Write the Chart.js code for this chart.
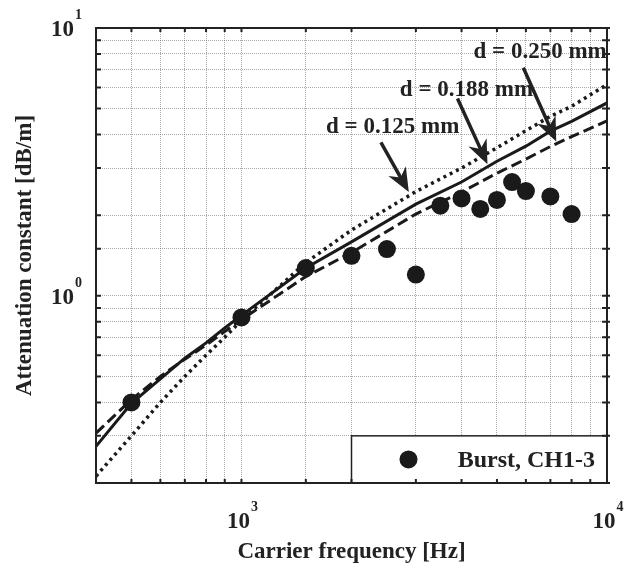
<!DOCTYPE html>
<html>
<head>
<meta charset="utf-8">
<script src="https://cdn.jsdelivr.net/npm/chart.js@4.4.1/dist/chart.umd.min.js"></script>
<style>
  html, body { margin: 0; padding: 0; background: #fff; }
  #wrap { width: 633px; height: 568px; }
</style>
</head>
<body>
<div id="wrap"><canvas id="atten"></canvas></div>
<script>
// measured attenuation, burst signal on CH1-3
var burstFreq = [500, 1000, 1500, 2000, 2500, 3000, 3500, 4000, 4500, 5000, 5500, 6000, 7000, 8000];
var burstAtten = [0.40, 0.83, 1.27, 1.41, 1.495, 1.20, 2.17, 2.31, 2.11, 2.28, 2.66, 2.46, 2.35, 2.02];

// calculated attenuation for three wire diameters
var modelFreq = [400, 500, 600, 700, 800, 900, 1000, 1500, 2000, 3000, 4000, 5000, 6000, 7000, 8000, 10000];
var atten125 = [0.212, 0.30, 0.40, 0.50, 0.60, 0.70, 0.81, 1.33, 1.76, 2.45, 3.0, 3.57, 4.14, 4.68, 5.1, 6.15];
var atten188 = [0.274, 0.397, 0.49, 0.585, 0.667, 0.758, 0.845, 1.27, 1.59, 2.2, 2.66, 3.18, 3.62, 4.12, 4.48, 5.25];
var atten250 = [0.307, 0.41, 0.50, 0.58, 0.655, 0.735, 0.815, 1.18, 1.45, 2.02, 2.44, 2.87, 3.24, 3.61, 3.93, 4.5];

var xTickPowers = [3, 4];
var yTickPowers = [0, 1];

var SERIF = '"Liberation Serif", "Times New Roman", serif';
var INK = '#222';

function pairs(xs, ys) {
  return xs.map(function (x, i) { return {x: x, y: ys[i]}; });
}

// labels with arrows, anchored in data space
var callouts = [
  {text: 'd = 0.125 mm', at: [1704, 4.25], from: [2407, 3.74], to: [2870, 2.44]},
  {text: 'd = 0.188 mm', at: [2712, 5.88], from: [3899, 5.45], to: [4710, 3.10]},
  {text: 'd = 0.250 mm', at: [4314, 8.14], from: [5903, 7.1], to: [7262, 3.77]}
];

function drawArrow(ctx, x1, y1, x2, y2) {
  var ang = Math.atan2(y2 - y1, x2 - x1);
  var len = 24, half = 10;
  ctx.save();
  ctx.strokeStyle = INK;
  ctx.fillStyle = INK;
  ctx.lineWidth = 3.5;
  ctx.beginPath();
  ctx.moveTo(x1, y1);
  ctx.lineTo(x2 - Math.cos(ang) * 10, y2 - Math.sin(ang) * 10);
  ctx.stroke();
  ctx.translate(x2, y2);
  ctx.rotate(ang);
  ctx.beginPath();
  ctx.moveTo(0, 0);
  ctx.lineTo(-len, -half);
  ctx.lineTo(-len * 0.7, 0);
  ctx.lineTo(-len, half);
  ctx.closePath();
  ctx.fill();
  ctx.restore();
}

function drawPower(ctx, base, power, x, y, align) {
  // "10" with a raised exponent; x is the tick position
  ctx.save();
  ctx.fillStyle = INK;
  ctx.textBaseline = 'alphabetic';
  ctx.font = 'bold 23px ' + SERIF;
  var bw = ctx.measureText(base).width;
  ctx.font = 'bold 14px ' + SERIF;
  var pw = ctx.measureText(String(power)).width;
  var left;
  if (align === 'center') {
    left = x - (bw + pw + 1) / 2;
  } else {
    left = x - (bw + pw + 1);
  }
  ctx.font = 'bold 23px ' + SERIF;
  ctx.fillText(base, left, y);
  ctx.font = 'bold 14px ' + SERIF;
  ctx.fillText(String(power), left + bw + 1, y - 17);
  ctx.restore();
}

var framePlugin = {
  id: 'frame',
  afterDatasetsDraw: function (chart) {
    var ctx = chart.ctx;
    var a = chart.chartArea;
    var xs = chart.scales.x, ys = chart.scales.y;

    // legend box in the lower right corner
    var lx = xs.getPixelForValue(2000), ly = ys.getPixelForValue(0.3);
    ctx.save();
    ctx.fillStyle = '#fff';
    ctx.fillRect(lx, ly, a.right - lx, a.bottom - ly);
    ctx.strokeStyle = INK;
    ctx.lineWidth = 1.5;
    ctx.strokeRect(lx, ly, a.right - lx, a.bottom - ly);
    var ds = chart.data.datasets[0];
    var cy = (ly + a.bottom) / 2;
    ctx.fillStyle = ds.backgroundColor;
    ctx.beginPath();
    ctx.arc(lx + 57, cy, ds.pointRadius, 0, Math.PI * 2);
    ctx.fill();
    ctx.fillStyle = INK;
    ctx.font = 'bold 24px ' + SERIF;
    ctx.textAlign = 'right';
    ctx.textBaseline = 'middle';
    ctx.fillText(ds.label, a.right - 12, cy + 1);
    ctx.restore();

    // inward tick marks on all four sides
    ctx.save();
    ctx.strokeStyle = INK;
    ctx.lineWidth = 2;
    ctx.beginPath();
    xs.ticks.forEach(function (t) {
      var px = xs.getPixelForValue(t.value);
      ctx.moveTo(px, a.bottom); ctx.lineTo(px, a.bottom - 4);
      ctx.moveTo(px, a.top); ctx.lineTo(px, a.top + 4);
    });
    ys.ticks.forEach(function (t) {
      var py = ys.getPixelForValue(t.value);
      ctx.moveTo(a.left, py); ctx.lineTo(a.left + 5, py);
      ctx.moveTo(a.right - 5, py); ctx.lineTo(a.right + 3, py);
    });
    ctx.stroke();
    ctx.lineWidth = 2;
    ctx.strokeRect(a.left, a.top, a.right - a.left, a.bottom - a.top);
    ctx.restore();

    // callouts
    callouts.forEach(function (c) {
      var fx = xs.getPixelForValue(c.from[0]), fy = ys.getPixelForValue(c.from[1]);
      var tx = xs.getPixelForValue(c.to[0]), ty = ys.getPixelForValue(c.to[1]);
      drawArrow(ctx, fx, fy, tx, ty);
    });
    callouts.forEach(function (c) {
      ctx.save();
      ctx.fillStyle = INK;
      ctx.font = 'bold 23px ' + SERIF;
      ctx.textBaseline = 'middle';
      ctx.fillText(c.text, xs.getPixelForValue(c.at[0]), ys.getPixelForValue(c.at[1]));
      ctx.restore();
    });
  },
  afterDraw: function (chart) {
    var ctx = chart.ctx;
    var a = chart.chartArea;
    var xs = chart.scales.x, ys = chart.scales.y;
    xTickPowers.forEach(function (p) {
      drawPower(ctx, '10', p, xs.getPixelForValue(Math.pow(10, p)) + 1, a.bottom + 45, 'center');
    });
    yTickPowers.forEach(function (p) {
      drawPower(ctx, '10', p, a.left - 14, ys.getPixelForValue(Math.pow(10, p)) + 8, 'right');
    });
  }
};

var gridStyle = {
  color: 'rgba(110,110,110,0.6)',
  lineWidth: 1,
  drawTicks: false
};

new Chart(document.getElementById('atten'), {
  type: 'scatter',
  data: {
    datasets: [
      {
        label: 'Burst, CH1-3',
        data: pairs(burstFreq, burstAtten),
        backgroundColor: '#1a1a1a',
        borderColor: '#1a1a1a',
        pointRadius: 9,
        pointBorderWidth: 0
      },
      {
        label: 'd = 0.125 mm',
        data: pairs(modelFreq, atten125),
        showLine: true,
        borderColor: '#1a1a1a',
        borderWidth: 3.5,
        borderDash: [3, 4],
        pointRadius: 0,
        tension: 0
      },
      {
        label: 'd = 0.188 mm',
        data: pairs(modelFreq, atten188),
        showLine: true,
        borderColor: '#1a1a1a',
        borderWidth: 3,
        pointRadius: 0,
        tension: 0
      },
      {
        label: 'd = 0.250 mm',
        data: pairs(modelFreq, atten250),
        showLine: true,
        borderColor: '#1a1a1a',
        borderWidth: 3,
        borderDash: [11, 5],
        pointRadius: 0,
        tension: 0
      }
    ]
  },
  options: {
    responsive: true,
    maintainAspectRatio: false,
    animation: false,
    layout: {
      padding: {top: 28, right: 26, left: 0, bottom: 0}
    },
    plugins: {
      legend: {display: false},
      tooltip: {enabled: false}
    },
    scales: {
      x: {
        type: 'logarithmic',
        position: 'bottom',
        min: 400,
        max: 10000,
        ticks: {display: false},
        grid: gridStyle,
        border: {display: false, dash: [1, 1]},
        title: {
          display: true,
          text: 'Carrier frequency [Hz]',
          color: INK,
          font: {family: SERIF, size: 23, weight: 'bold'},
          padding: 2
        },
        afterFit: function (scale) { scale.height = 85; }
      },
      y: {
        type: 'logarithmic',
        position: 'left',
        min: 0.2,
        max: 10,
        ticks: {display: false},
        grid: gridStyle,
        border: {display: false, dash: [1, 1]},
        title: {
          display: true,
          text: 'Attenuation constant [dB/m]',
          color: INK,
          font: {family: SERIF, size: 23, weight: 'bold'},
          padding: 11
        },
        afterFit: function (scale) { scale.width = 96; }
      }
    }
  },
  plugins: [framePlugin]
});
</script>
</body>
</html>
